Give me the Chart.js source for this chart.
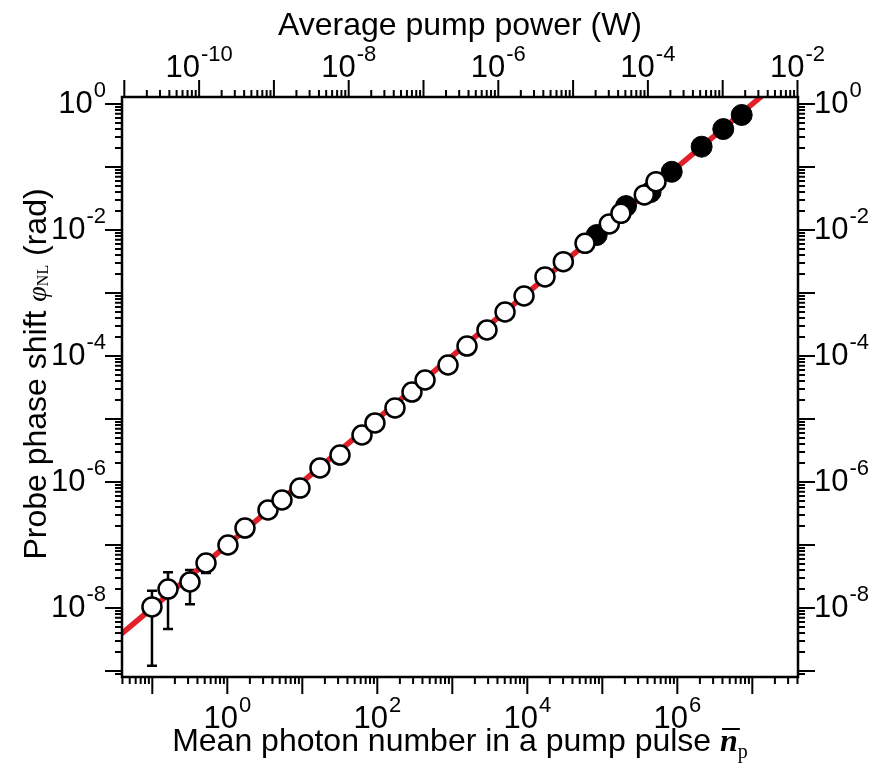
<!DOCTYPE html>
<html>
<head>
<meta charset="utf-8">
<script src="https://cdn.jsdelivr.net/npm/chart.js@4.4.0/dist/chart.umd.min.js"></script>
<style>
    body { margin: 0; background: #fff; }
    #wrap { width: 874px; height: 773px; }
</style>
</head>
<body>
<div id="wrap"><canvas id="phaseChart" width="874" height="773"></canvas></div>
<script>
// open circles: mean photon number in a pump pulse -> probe phase shift (rad)
const openPhotons = [0.099, 0.162, 0.318, 0.52, 1.02, 1.72, 3.49, 5.36, 9.31, 17.2, 31.8, 62.5, 93, 172, 290, 433,
    877, 1570, 2900, 5050, 9040, 17200, 30200, 58800, 124000, 177000, 363000, 520000];
const openPhase = [1.04e-8, 2.0e-8, 2.59e-8, 5.18e-8, 1.0e-7, 1.86e-7, 3.6e-7, 5.18e-7, 8.0e-7, 1.67e-6, 2.68e-6, 5.57e-6, 8.65e-6, 1.5e-5, 2.68e-5, 4.16e-5,
    7.2e-5, 1.44e-4, 2.59e-4, 4.99e-4, 8.96e-4, 1.8e-3, 3.14e-3, 6.15e-3, 1.25e-2, 1.84e-2, 3.6e-2, 5.85e-2];

// filled circles
const filledPhotons = [84200, 207000, 440000, 842000, 2110000, 4100000, 7220000];
const filledPhase = [8.33e-3, 2.4e-2, 4.0e-2, 8.4e-2, 0.21, 0.40, 0.67];

// error bars on the weakest points
const errPhotons = [0.099, 0.162, 0.318, 0.52];
const errLow = [1.21e-9, 4.64e-9, 1.15e-8, 3.6e-8];
const errHigh = [1.88e-8, 3.69e-8, 4.0e-8, 7.0e-8];

// linear fit (slope 1 in log-log)
const fitPhotons = [0.03, 2.0e7];
const fitPhase = [3.0e-9, 2.0];

// axis ranges
const photonMin = Math.pow(10, -1.404), photonMax = Math.pow(10, 7.609);
const powerMin = Math.pow(10, -11.031), powerMax = Math.pow(10, -1.993);
const phaseMin = Math.pow(10, -9.095), phaseMax = Math.pow(10, 0.111);

// labelled decades
const photonTickExps = [0, 2, 4, 6];
const powerTickExps = [-10, -8, -6, -4, -2];
const phaseTickExps = [0, -2, -4, -6, -8];

const SANS = '"Liberation Sans", Arial, sans-serif';
const SERIF = '"Liberation Serif", "Times New Roman", serif';

function logTicks(scale) {
    const out = [];
    const lo = Math.floor(Math.log10(scale.min));
    const hi = Math.ceil(Math.log10(scale.max));
    for (let d = lo; d <= hi; d++) {
        for (let k = 1; k <= 9; k++) {
            const v = k * Math.pow(10, d);
            if (v >= scale.min * 0.999 && v <= scale.max * 1.001) out.push({ v: v, major: k === 1 });
        }
    }
    return out;
}

// "10" with a raised exponent
function drawPow(ctx, exp, x, y, align) {
    const base = '10', sup = String(exp);
    ctx.font = '31px ' + SANS;
    const wb = ctx.measureText(base).width;
    ctx.font = '22px ' + SANS;
    const ws = ctx.measureText(sup).width;
    const w = wb + ws + 1;
    let x0 = x - w / 2;
    if (align === 'right') x0 = x - w;
    if (align === 'left') x0 = x;
    ctx.textAlign = 'left';
    ctx.textBaseline = 'middle';
    ctx.font = '31px ' + SANS;
    ctx.fillText(base, x0, y);
    ctx.font = '22px ' + SANS;
    ctx.fillText(sup, x0 + wb + 1, y - 13);
}

const axisDecor = {
    id: 'axisDecor',
    beforeDatasetsDraw(chart) {
        const ctx = chart.ctx, xs = chart.scales.x, ys = chart.scales.y;
        ctx.save();
        ctx.strokeStyle = '#000';
        ctx.lineWidth = 2.5;
        errPhotons.forEach((n, i) => {
            const px = xs.getPixelForValue(n);
            const top = ys.getPixelForValue(errHigh[i]);
            const bot = ys.getPixelForValue(errLow[i]);
            ctx.beginPath();
            ctx.moveTo(px, top); ctx.lineTo(px, bot);
            ctx.moveTo(px - 5, top); ctx.lineTo(px + 5, top);
            ctx.moveTo(px - 5, bot); ctx.lineTo(px + 5, bot);
            ctx.stroke();
        });
        ctx.restore();
    },
    afterDraw(chart) {
        const ctx = chart.ctx, a = chart.chartArea;
        const xs = chart.scales.x, x2 = chart.scales.x2, ys = chart.scales.y, y2 = chart.scales.y2;
        ctx.save();
        ctx.strokeStyle = '#000';
        ctx.fillStyle = '#000';

        // frame
        ctx.lineWidth = 2.5;
        ctx.strokeRect(a.left, a.top, a.right - a.left, a.bottom - a.top);

        // tick marks, outward
        ctx.lineWidth = 2;
        ctx.beginPath();
        logTicks(xs).forEach(t => {
            const p = xs.getPixelForValue(t.v), len = t.major ? 17 : 7;
            ctx.moveTo(p, a.bottom); ctx.lineTo(p, a.bottom + len);
        });
        logTicks(x2).forEach(t => {
            const p = x2.getPixelForValue(t.v), len = t.major ? 17 : 7;
            ctx.moveTo(p, a.top); ctx.lineTo(p, a.top - len);
        });
        logTicks(ys).forEach(t => {
            const p = ys.getPixelForValue(t.v), len = t.major ? 17 : 7;
            ctx.moveTo(a.left, p); ctx.lineTo(a.left - len, p);
        });
        logTicks(y2).forEach(t => {
            const p = y2.getPixelForValue(t.v), len = t.major ? 17 : 7;
            ctx.moveTo(a.right, p); ctx.lineTo(a.right + len, p);
        });
        ctx.stroke();

        // tick labels
        photonTickExps.forEach(e => drawPow(ctx, e, xs.getPixelForValue(Math.pow(10, e)), a.bottom + 42, 'center'));
        powerTickExps.forEach(e => drawPow(ctx, e, x2.getPixelForValue(Math.pow(10, e)), a.top - 29, 'center'));
        phaseTickExps.forEach(e => {
            drawPow(ctx, e, a.left - 16, ys.getPixelForValue(Math.pow(10, e)), 'right');
            drawPow(ctx, e, a.right + 16, y2.getPixelForValue(Math.pow(10, e)), 'left');
        });

        const cx = (a.left + a.right) / 2;

        // top title
        ctx.font = '32px ' + SANS;
        ctx.textAlign = 'center';
        ctx.textBaseline = 'middle';
        ctx.fillText('Average pump power (W)', cx, 26);

        // bottom title with n-bar subscript p
        const mainTxt = 'Mean photon number in a pump pulse ';
        ctx.font = '32px ' + SANS;
        const wm = ctx.measureText(mainTxt).width;
        ctx.font = 'italic bold 32px ' + SERIF;
        const wn = ctx.measureText('n').width;
        ctx.font = '20px ' + SERIF;
        const wp = ctx.measureText('p').width;
        let bx = cx - (wm + wn + wp) / 2;
        const by = a.bottom + 74;
        ctx.textAlign = 'left';
        ctx.textBaseline = 'alphabetic';
        ctx.font = '32px ' + SANS;
        ctx.fillText(mainTxt, bx, by);
        bx += wm;
        ctx.font = 'italic bold 32px ' + SERIF;
        ctx.fillText('n', bx, by);
        ctx.lineWidth = 2;
        ctx.beginPath();
        ctx.moveTo(bx + 2, by - 22); ctx.lineTo(bx + wn + 2, by - 22);
        ctx.stroke();
        bx += wn;
        ctx.font = '20px ' + SERIF;
        ctx.fillText('p', bx, by + 7);

        // left title, rotated
        const p1 = 'Probe phase shift ', p4 = ' (rad)';
        ctx.font = '32px ' + SANS;
        const w1 = ctx.measureText(p1).width, w4 = ctx.measureText(p4).width;
        ctx.font = 'italic 28px ' + SERIF;
        const w2 = ctx.measureText('\u03c6').width;
        ctx.font = '16px ' + SERIF;
        const w3 = ctx.measureText('NL').width;
        ctx.translate(46, 374);
        ctx.rotate(-Math.PI / 2);
        let lx = -(w1 + w2 + w3 + w4) / 2;
        ctx.font = '32px ' + SANS;
        ctx.fillText(p1, lx, 0);
        lx += w1;
        ctx.font = 'italic 28px ' + SERIF;
        ctx.fillText('\u03c6', lx, 0);
        lx += w2;
        ctx.font = '16px ' + SERIF;
        ctx.fillText('NL', lx, 2);
        lx += w3;
        ctx.font = '32px ' + SANS;
        ctx.fillText(p4, lx, 0);
        ctx.restore();
    }
};

function logAxis(position, min, max, size) {
    return {
        type: 'logarithmic',
        position: position,
        min: min,
        max: max,
        ticks: { display: false },
        grid: { display: false },
        border: { display: false },
        afterFit: function (scale) {
            if (position === 'left' || position === 'right') scale.width = size;
            else scale.height = size;
        }
    };
}

const ctx = document.getElementById('phaseChart').getContext('2d');
new Chart(ctx, {
    type: 'scatter',
    data: {
        datasets: [{
            label: 'open',
            data: openPhotons.map((n, i) => ({ x: n, y: openPhase[i] })),
            pointRadius: 9.5,
            pointBackgroundColor: '#fff',
            pointBorderColor: '#000',
            pointBorderWidth: 2.5,
            order: 0
        }, {
            label: 'filled',
            data: filledPhotons.map((n, i) => ({ x: n, y: filledPhase[i] })),
            pointRadius: 10.5,
            pointBackgroundColor: '#000',
            pointBorderColor: '#000',
            pointBorderWidth: 1,
            order: 1
        }, {
            type: 'line',
            label: 'fit',
            data: fitPhotons.map((n, i) => ({ x: n, y: fitPhase[i] })),
            borderColor: '#e2202a',
            borderWidth: 5.5,
            pointRadius: 0,
            fill: false,
            order: 2
        }]
    },
    options: {
        responsive: false,
        animation: false,
        layout: { padding: 0 },
        plugins: {
            legend: { display: false },
            tooltip: { enabled: false }
        },
        scales: {
            x: logAxis('bottom', photonMin, photonMax, 96),
            x2: logAxis('top', powerMin, powerMax, 97),
            y: logAxis('left', phaseMin, phaseMax, 122),
            y2: logAxis('right', phaseMin, phaseMax, 76)
        }
    },
    plugins: [axisDecor]
});
</script>
</body>
</html>
